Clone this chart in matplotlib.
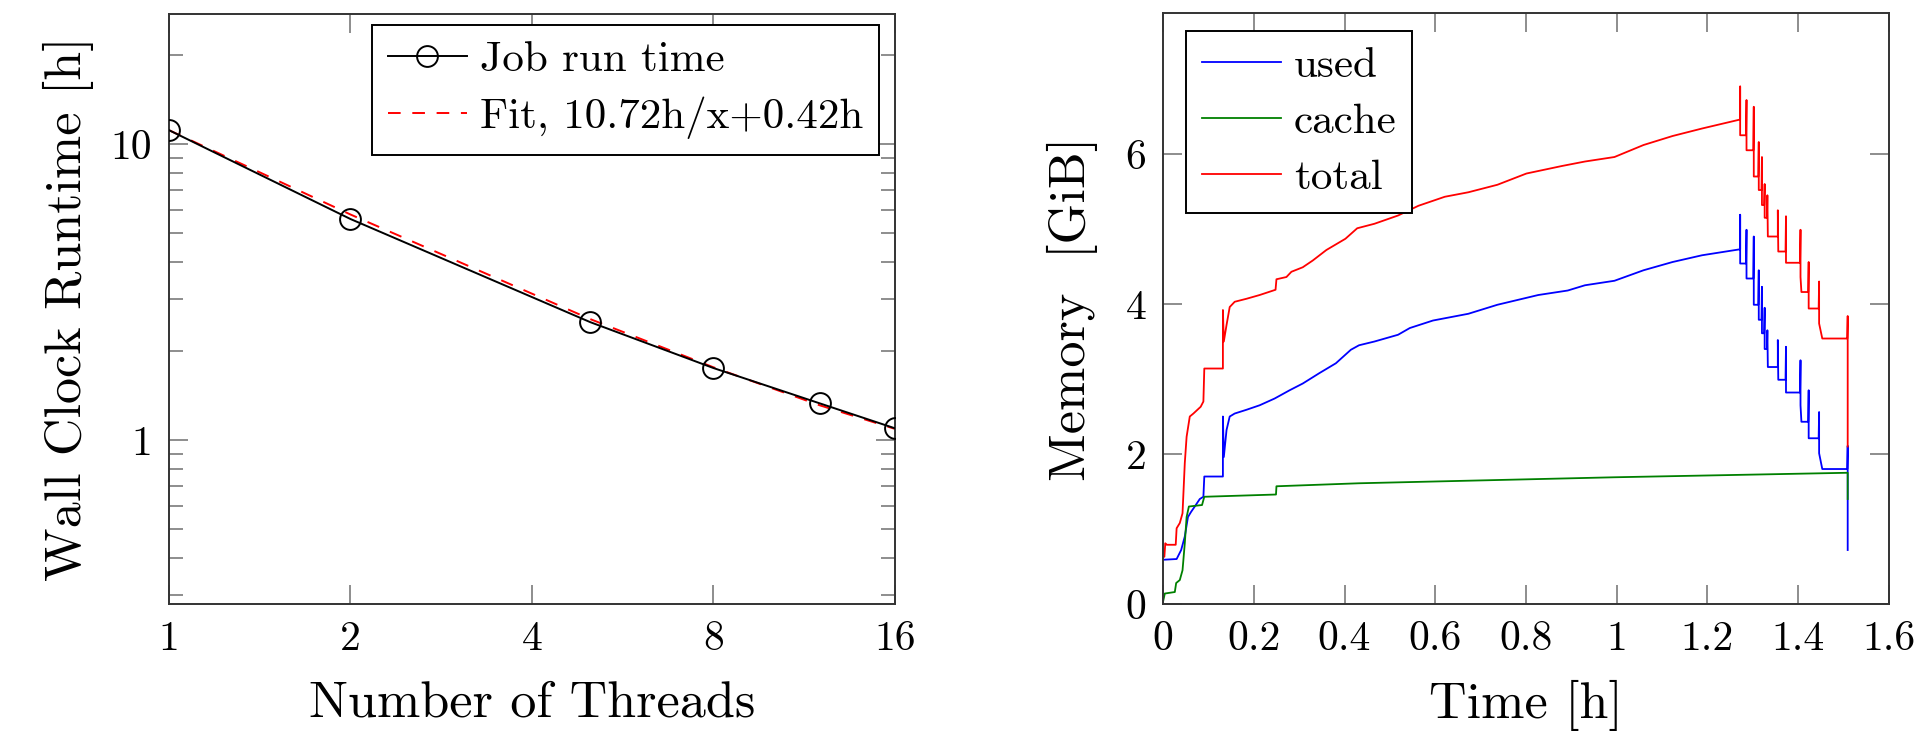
import matplotlib
matplotlib.use('Agg')
import matplotlib.pyplot as plt
from matplotlib.ticker import FixedLocator, FixedFormatter, NullFormatter, NullLocator

plt.rcParams['font.family'] = ['cmr10', 'DejaVu Serif']
plt.rcParams['axes.formatter.use_mathtext'] = True

# Left: run time vs threads
threads = [1, 2, 5, 8, 12, 16]
runtime = [11.14, 5.58, 2.50, 1.75, 1.33, 1.095]
fit_runtime = [11.14, 5.78, 2.56, 1.76, 1.31, 1.09]

# Right: memory over time
used_t = [0.000, 0.030, 0.040, 0.048, 0.055, 0.062, 0.070, 0.081, 0.089, 0.091,
          0.132, 0.132, 0.134, 0.140, 0.147, 0.158, 0.184, 0.213, 0.246, 0.279,
          0.308, 0.345, 0.381, 0.414, 0.432, 0.466, 0.518, 0.544, 0.595, 0.673,
          0.737, 0.827, 0.892, 0.930, 0.995, 1.059, 1.123, 1.188, 1.272,
          1.272, 1.272, 1.285, 1.286, 1.286, 1.301, 1.302, 1.302, 1.312, 1.313,
          1.313, 1.319, 1.320, 1.320, 1.325, 1.326, 1.326, 1.331, 1.332, 1.333,
          1.355, 1.355, 1.356, 1.372, 1.373, 1.373, 1.404, 1.405, 1.405, 1.407,
          1.422, 1.423, 1.423, 1.445, 1.446, 1.446, 1.453, 1.508, 1.509, 1.509]
used_mem = [0.59, 0.60, 0.72, 0.90, 1.16, 1.23, 1.30, 1.40, 1.43, 1.70,
            1.70, 2.50, 1.96, 2.32, 2.50, 2.54, 2.59, 2.65, 2.74, 2.85,
            2.94, 3.08, 3.21, 3.39, 3.45, 3.50, 3.59, 3.68, 3.78, 3.87,
            3.99, 4.12, 4.18, 4.25, 4.31, 4.45, 4.56, 4.65, 4.73,
            5.19, 4.54, 4.54, 4.99, 4.34, 4.34, 4.90, 3.99, 3.99, 4.45,
            3.79, 3.79, 4.23, 3.61, 3.61, 3.95, 3.40, 3.40, 3.65, 3.16,
            3.16, 3.52, 2.99, 2.99, 3.43, 2.82, 2.82, 3.25, 2.65, 2.43,
            2.43, 2.85, 2.21, 2.21, 2.56, 2.01, 1.80, 1.80, 2.11, 0.72]

cache_t = [0.000, 0.004, 0.026, 0.029, 0.037, 0.043, 0.048, 0.052, 0.057, 0.086,
           0.091, 0.249, 0.250, 0.432, 0.995, 1.509, 1.509]
cache_mem = [0.03, 0.14, 0.16, 0.28, 0.32, 0.45, 0.81, 1.16, 1.30, 1.32,
             1.43, 1.46, 1.57, 1.61, 1.69, 1.75, 1.40]

total_t = [0.000, 0.003, 0.005, 0.008, 0.028, 0.030, 0.037, 0.043, 0.048, 0.052,
           0.059, 0.067, 0.083, 0.089, 0.091, 0.132, 0.132, 0.134, 0.140, 0.147,
           0.158, 0.184, 0.213, 0.248, 0.250, 0.272, 0.283, 0.308, 0.330, 0.360,
           0.402, 0.428, 0.466, 0.518, 0.563, 0.621, 0.673, 0.737, 0.801, 0.879,
           0.930, 0.995, 1.059, 1.123, 1.188, 1.272,
           1.272, 1.272, 1.285, 1.286, 1.286, 1.301, 1.302, 1.302, 1.312, 1.313,
           1.313, 1.319, 1.320, 1.320, 1.325, 1.326, 1.326, 1.331, 1.332, 1.333,
           1.355, 1.355, 1.356, 1.372, 1.373, 1.373, 1.404, 1.405, 1.405, 1.407,
           1.422, 1.423, 1.423, 1.445, 1.446, 1.446, 1.453, 1.508, 1.509, 1.509, 1.509]
total_mem = [0.63, 0.63, 0.81, 0.79, 0.79, 1.01, 1.08, 1.21, 1.88, 2.23,
             2.50, 2.54, 2.63, 2.70, 3.14, 3.14, 3.92, 3.50, 3.72, 3.96,
             4.03, 4.07, 4.12, 4.19, 4.33, 4.36, 4.43, 4.49, 4.58, 4.72,
             4.87, 5.01, 5.07, 5.18, 5.31, 5.43, 5.49, 5.59, 5.74, 5.84,
             5.90, 5.96, 6.12, 6.24, 6.34, 6.46,
             6.90, 6.25, 6.25, 6.72, 6.05, 6.05, 6.63, 5.70, 5.70, 6.16,
             5.52, 5.52, 5.96, 5.32, 5.32, 5.60, 5.15, 5.15, 5.45, 4.90,
             4.90, 5.25, 4.70, 4.70, 5.17, 4.55, 4.55, 4.99, 4.36, 4.16,
             4.16, 4.56, 3.94, 3.94, 4.30, 3.74, 3.54, 3.54, 3.84, 3.37, 2.10]

fig = plt.figure(figsize=(19.16, 7.35), dpi=100)
ax1 = fig.add_axes([0.0882, 0.1782, 0.3789, 0.8027])
ax2 = fig.add_axes([0.6070, 0.1782, 0.3789, 0.8041])

spine_c = '#333333'
tick_c = '#7a7a7a'
legend_kw = dict(borderaxespad=0, fontsize=31, fancybox=False, framealpha=1,
                 edgecolor='black', handlelength=1.85, handletextpad=0.3,
                 labelspacing=0.42, borderpad=0.36)


def style_axes(ax):
    for s in ax.spines.values():
        s.set_color(spine_c)
        s.set_linewidth(1.4)
    ax.tick_params(which='both', direction='in', top=True, right=True,
                   color=tick_c, width=1.2, labelsize=30, labelcolor='black')
    ax.tick_params(which='major', length=14)
    ax.tick_params(which='minor', length=10)


# ---- left panel
ax1.plot(threads, runtime, color='black', lw=1.4, marker='o', ms=15,
         mfc='none', mec='black', mew=1.4, label='Job run time', zorder=3)
ax1.plot(threads, fit_runtime, color='red', lw=1.4, ls=(0, (6.5, 6)),
         label='Fit, 10.72h/x+0.42h', zorder=2)
ax1.set_xscale('log', base=2)
ax1.set_yscale('log')
ax1.set_xlim(1, 16)
ax1.set_ylim(0.279, 27.5)
ax1.xaxis.set_major_locator(FixedLocator([1, 2, 4, 8, 16]))
ax1.xaxis.set_major_formatter(FixedFormatter(['1', '2', '4', '8', '16']))
ax1.xaxis.set_minor_locator(NullLocator())
ax1.yaxis.set_major_locator(FixedLocator([1, 10]))
ax1.yaxis.set_major_formatter(FixedFormatter(['1', '10']))
ax1.yaxis.set_minor_locator(FixedLocator([0.3, 0.4, 0.5, 0.6, 0.7, 0.8, 0.9,
                                          2, 3, 4, 5, 6, 7, 8, 9, 20]))
ax1.yaxis.set_minor_formatter(NullFormatter())
style_axes(ax1)
ax1.tick_params(axis='x', pad=12)
ax1.tick_params(axis='y', pad=12)
ax1.set_xlabel('Number of Threads', fontsize=37.5, labelpad=16)
ax1.set_ylabel('Wall Clock Runtime [h]', fontsize=37.5, labelpad=12)
leg1 = ax1.legend(loc='upper right', bbox_to_anchor=(0.978, 0.981), **legend_kw)
leg1.get_frame().set_linewidth(1.4)

# ---- right panel
ax2.plot(used_t, used_mem, color='blue', lw=1.3, label='used')
ax2.plot(cache_t, cache_mem, color=(0, 0.5, 0), lw=1.3, label='cache')
ax2.plot(total_t, total_mem, color='red', lw=1.3, label='total')
ax2.set_xlim(0, 1.6)
ax2.set_ylim(0, 7.88)
ax2.set_xticks([0, 0.2, 0.4, 0.6, 0.8, 1.0, 1.2, 1.4, 1.6])
ax2.set_xticklabels(['0', '0.2', '0.4', '0.6', '0.8', '1', '1.2', '1.4', '1.6'])
ax2.set_yticks([0, 2, 4, 6])
ax2.set_yticklabels(['0', '2', '4', '6'])
style_axes(ax2)
ax2.tick_params(axis='x', pad=12)
ax2.tick_params(axis='y', pad=12)
ax2.set_xlabel('Time [h]', fontsize=37.5, labelpad=16)
ax2.set_ylabel('Memory  [GiB]', fontsize=37.5, labelpad=20)
leg2 = ax2.legend(loc='upper left', bbox_to_anchor=(0.0317, 0.9695), **legend_kw)
leg2.get_frame().set_linewidth(1.4)

fig.savefig('out.png', dpi=100)
